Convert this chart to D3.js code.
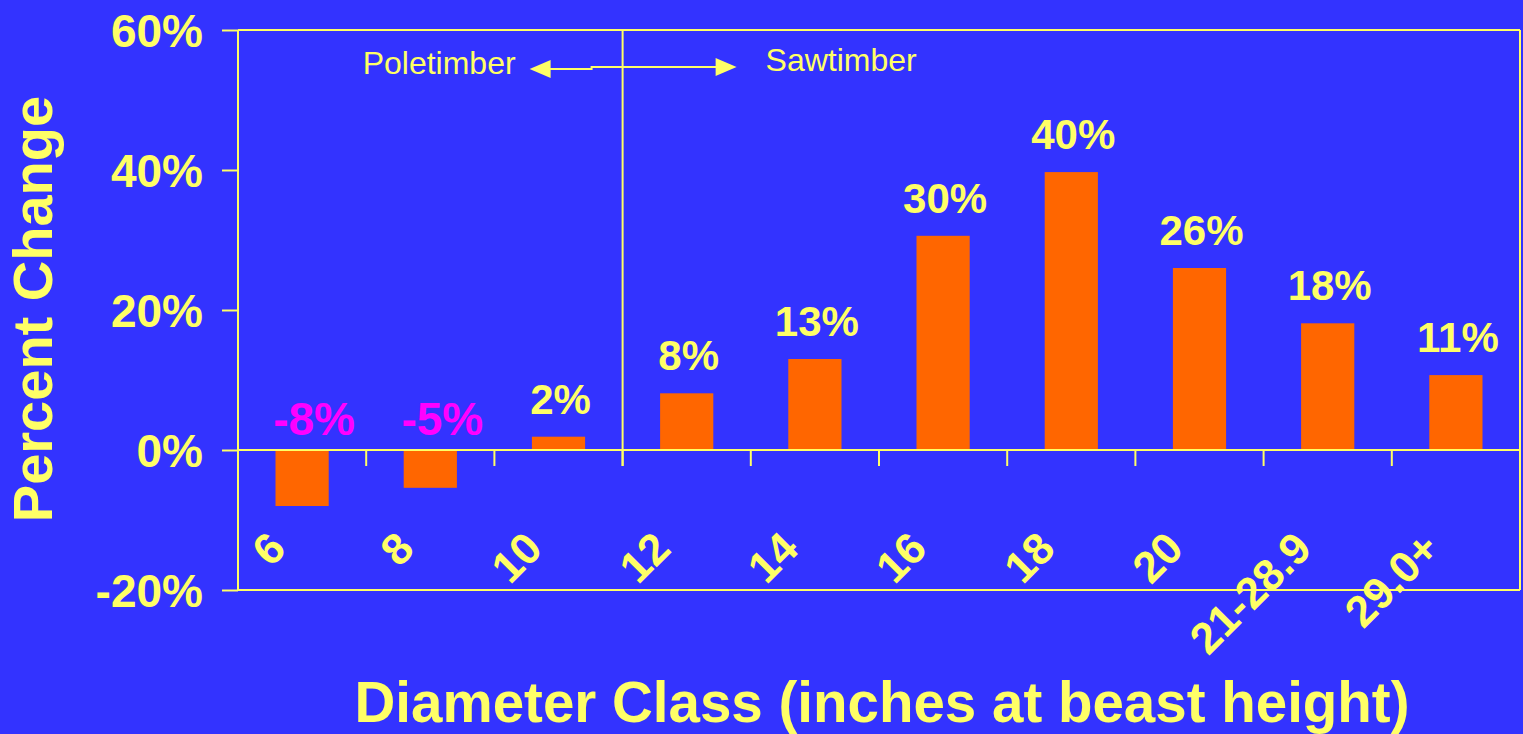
<!DOCTYPE html>
<html><head><meta charset="utf-8">
<script src="https://cdn.jsdelivr.net/npm/d3@7"></script>
<style>
html,body{margin:0;padding:0;background:#3333FF;}
svg{display:block;}
text{font-family:Arial,"Liberation Sans",sans-serif;}
</style></head>
<body>
<script>
const categories = ["6","8","10","12","14","16","18","20","21-28.9","29.0+"];
const values = [-8, -5.4, 1.9, 8.1, 13, 30.6, 39.7, 26, 18.1, 10.7];
const valueLabels = ["-8%","-5%","2%","8%","13%","30%","40%","26%","18%","11%"];
const yTicks = [-20, 0, 20, 40, 60];

(function () {
const W = 1523, H = 734;
const pLeft = 238, pRight = 1520, pTop = 30, pBottom = 590;
const yellow = "#FFFF66", orange = "#FF6600", magenta = "#FF00FF", bg = "#3333FF";

const svg = d3.select("body").append("svg").attr("width", W).attr("height", H);
svg.append("rect").attr("width", W).attr("height", H).attr("fill", bg);

const x = d3.scaleBand().domain(categories).range([pLeft, pRight]).paddingInner(0).paddingOuter(0);
const y = d3.scaleLinear().domain([-20, 60]).range([pBottom, pTop]);
const barW = x.bandwidth() * 0.415;

// Y axis with ticks
const yAxis = d3.axisLeft(y).tickValues(yTicks).tickSize(16).tickFormat(d => d + "%");
const yg = svg.append("g").attr("transform", `translate(${pLeft},0)`).call(yAxis);
yg.select(".domain").remove();
yg.selectAll(".tick line").attr("stroke", yellow).attr("stroke-width", 2);
yg.selectAll(".tick text").attr("fill", yellow).attr("font-size", 46).attr("font-weight", "bold")
  .attr("x", -35).attr("dy", "0.36em");

// frame
const frame = svg.append("g").attr("stroke", yellow).attr("stroke-width", 2).attr("fill", "none");
frame.append("line").attr("x1", pLeft).attr("x2", pRight).attr("y1", y(60)).attr("y2", y(60));
frame.append("line").attr("x1", pLeft).attr("x2", pRight).attr("y1", y(-20)).attr("y2", y(-20));
frame.append("line").attr("x1", pLeft).attr("x2", pLeft).attr("y1", y(60)).attr("y2", y(-20));
frame.append("line").attr("x1", pRight).attr("x2", pRight).attr("y1", y(60)).attr("y2", y(-20));

// bars
svg.append("g").selectAll("rect").data(categories).join("rect")
  .attr("x", (d) => x(d) + x.bandwidth() / 2 - barW / 2)
  .attr("width", barW)
  .attr("y", (d, i) => y(Math.max(0, values[i])))
  .attr("height", (d, i) => Math.abs(y(values[i]) - y(0)))
  .attr("fill", orange);

// zero line & x ticks
const zl = svg.append("g").attr("stroke", yellow).attr("stroke-width", 2).attr("fill", "none");
zl.append("line").attr("x1", pLeft).attr("x2", pRight).attr("y1", y(0)).attr("y2", y(0));
categories.slice(1).forEach(c => {
  zl.append("line").attr("x1", x(c)).attr("x2", x(c)).attr("y1", y(0)).attr("y2", y(0) + 16);
});

// divider Poletimber / Sawtimber
const divX = x("12");
zl.append("line").attr("x1", divX).attr("x2", divX).attr("y1", y(60)).attr("y2", y(0) + 16);
const ay = y(60) + 37;
const arrow = svg.append("g").attr("stroke", yellow).attr("stroke-width", 2).attr("fill", "none");
arrow.append("path").attr("d", `M${divX - 75},${ay + 2} L${divX - 31},${ay + 2} L${divX - 31},${ay} L${divX + 95},${ay}`);
svg.append("path").attr("fill", yellow)
  .attr("d", `M${divX - 93},${ay + 2} L${divX - 72},${ay - 7} L${divX - 72},${ay + 11} Z`);
svg.append("path").attr("fill", yellow)
  .attr("d", `M${divX + 114},${ay} L${divX + 93},${ay - 9} L${divX + 93},${ay + 9} Z`);
svg.append("text").attr("x", divX - 107).attr("y", y(60) + 44).attr("text-anchor", "end")
  .attr("fill", yellow).attr("font-size", 32).text("Poletimber");
svg.append("text").attr("x", divX + 143).attr("y", y(60) + 41).attr("text-anchor", "start")
  .attr("fill", yellow).attr("font-size", 32).text("Sawtimber");

// value labels
svg.append("g").selectAll("text").data(categories).join("text")
  .attr("x", (d, i) => x(d) + x.bandwidth() / 2 + (values[i] < 0 ? 12 : 2))
  .attr("y", (d, i) => values[i] < 0 ? y(0) - 15 : y(values[i]) - 23)
  .attr("text-anchor", "middle")
  .attr("font-weight", "bold")
  .attr("font-size", (d, i) => values[i] < 0 ? 46 : 42)
  .attr("fill", (d, i) => values[i] < 0 ? magenta : yellow)
  .text((d, i) => valueLabels[i]);

// category labels
svg.append("g").selectAll("text").data(categories).join("text")
  .attr("transform", d => `translate(${x(d) + x.bandwidth() / 2 - 14},${y(0) + 101}) rotate(-45)`)
  .attr("text-anchor", "end")
  .attr("font-weight", "bold").attr("font-size", 44).attr("fill", yellow)
  .text(d => d);

// axis titles
svg.append("text").attr("transform", `translate(52,${(pTop + pBottom) / 2 - 1}) rotate(-90)`)
  .attr("text-anchor", "middle").attr("font-weight", "bold").attr("font-size", 56).attr("fill", yellow)
  .text("Percent Change");
svg.append("text").attr("x", 882).attr("y", 722)
  .attr("text-anchor", "middle").attr("font-weight", "bold").attr("font-size", 56.5).attr("fill", yellow)
  .text("Diameter Class (inches at beast height)");
})();
</script>
</body></html>
